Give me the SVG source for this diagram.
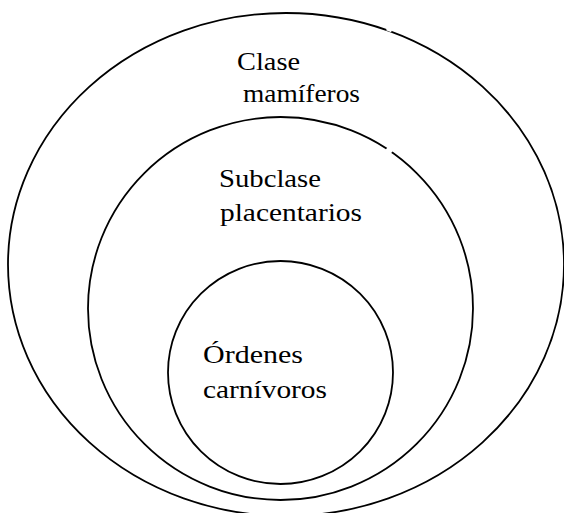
<svg xmlns="http://www.w3.org/2000/svg" width="564" height="513" viewBox="0 0 564 513">
<style>
.ring{fill:none;stroke:#000;stroke-width:1.8}
.gap{stroke:#fff;stroke-width:5}
text{font-family:"Liberation Serif","DejaVu Serif",serif;font-size:26px;fill:#000}
</style>
<rect width="564" height="513" fill="#fff"/>
<g id="clase">
<ellipse class="ring" cx="286" cy="264.5" rx="278" ry="251.5"/>
<line class="gap" x1="387" y1="28" x2="392" y2="30"/>
<text x="237" y="70" textLength="63" lengthAdjust="spacingAndGlyphs">Clase</text>
<text x="243" y="102" textLength="117" lengthAdjust="spacingAndGlyphs">mamíferos</text>
</g>
<g id="subclase">
<ellipse class="ring" cx="280.5" cy="308.5" rx="192.5" ry="191.5"/>
<line class="gap" x1="387" y1="148" x2="392" y2="152"/>
<text x="219" y="187" textLength="102" lengthAdjust="spacingAndGlyphs">Subclase</text>
<text x="220" y="221" textLength="142" lengthAdjust="spacingAndGlyphs">placentarios</text>
</g>
<g id="ordenes">
<ellipse class="ring" cx="280.5" cy="372.5" rx="112.5" ry="111.5"/>
<text x="203" y="363" textLength="100" lengthAdjust="spacingAndGlyphs">Órdenes</text>
<text x="203" y="398" textLength="124" lengthAdjust="spacingAndGlyphs">carnívoros</text>
</g>
<g id="connectors"/>
</svg>
